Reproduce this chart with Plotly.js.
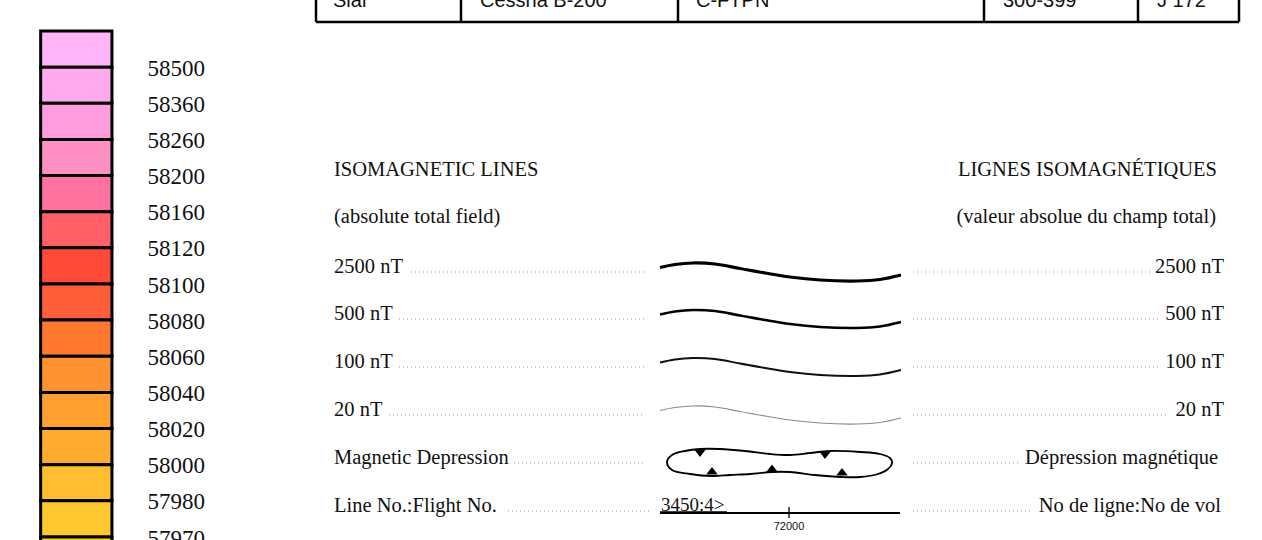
<!DOCTYPE html>
<html>
<head>
<meta charset="utf-8">
<script src="https://cdn.plot.ly/plotly-3.0.1.min.js"></script>
<style>html,body{margin:0;padding:0;background:#fff;}#chart{width:1262px;height:540px;}</style>
</head>
<body>
<div id="chart"></div>
<script>
// ---------------- DATA ----------------
const levelLabels = ['58500','58360','58260','58200','58160','58120','58100','58080','58060','58040','58020','58000','57980','57970'];
const swatchColors = ['#FFB5F7','#FFAAEE','#FF9DDE','#FF90C4','#FF72A0','#FF6068','#FF4A3A','#FF5F38','#FF7830','#FF9230','#FFA030','#FFAB30','#FFBD30','#FFC830','#FFD430'];
const tableCells = ['Sial','Cessna B-200','C-FTPN','300-399','J 172'];
const headerLeft = ['ISOMAGNETIC LINES','(absolute total field)'];
const headerRight = ['LIGNES ISOMAGNÉTIQUES','(valeur absolue du champ total)'];
const isoLevels = ['2500 nT','500 nT','100 nT','20 nT'];
const symbolLeft = ['Magnetic Depression','Line No.:Flight No.'];
const symbolRight = ['Dépression magnétique','No de ligne:No de vol'];
// sample isoline symbol (offsets along the legend swatch)
const isoCurveX  = [0, 15, 33, 55, 80, 105, 130, 160, 197, 220, 241];
const isoCurveDY = [1.5, -1.5, -3, -2, 2.5, 7, 11, 14, 15, 13.5, 9];
// magnetic depression closed contour symbol
const depLoopX = [0,5,18,33,53,78,103,123,143,163,193,213,223,225,221,211,193,175,148,123,105,83,63,45,23,5,0];
const depLoopDY = [6,-1,-5,-7,-7,-5,-2,-1,-3,-5,-4,-2,2,7,13,18,21,21,19,16,16,18,19,20,18,14,6];
const depHachDownX = [33,158];
const depHachDownDY = [-4,-2];
const depHachUpX = [45,105,175];
const depHachUpDY = [16,13.5,17];
const flightLineLabel = '3450:4>';
const fiducialLabel = '72000';
const fiducialPos = 129;

// ---------------- LAYOUT CONSTANTS ----------------
const serif = 'Liberation Serif, Times New Roman, serif';
const sans = 'Liberation Sans, Arial, sans-serif';
const rowY = [169, 216, 266, 313, 361, 409, 457, 505];
const textShift = 2;
const symX0 = 660;
const swatchTop = 31, swatchPitch = 36.14;

const traces = [];
// colour scale boxes
traces.push({
  type:'bar', xaxis:'x', yaxis:'y2',
  x: swatchColors.map(()=>76.3), y: swatchColors.map(()=>1),
  base: swatchColors.map((c,i)=>i), width: swatchColors.map(()=>71.3),
  marker:{color: swatchColors, line:{color:'#000', width:3}},
  hoverinfo:'skip', showlegend:false
});
traces.push({
  type:'scatter', mode:'text', xaxis:'x', yaxis:'y2',
  x: levelLabels.map(()=>147.5), y: levelLabels.map((l,i)=>i+1+0.08),
  text: levelLabels, textposition:'middle right',
  textfont:{family:serif, size:23, color:'#111'}, cliponaxis:false, hoverinfo:'skip', showlegend:false
});
// table cells (cut at the top, as in the source sheet)
const cellX = [333, 480, 696, 1003, 1157];
traces.push({
  type:'scatter', mode:'text', x: cellX, y: tableCells.map(()=>2),
  text: tableCells, textposition:'middle right',
  textfont:{family:sans, size:20, color:'#111'}, cliponaxis:false, hoverinfo:'skip', showlegend:false
});
// left / right texts
const leftTexts = headerLeft.concat(isoLevels, symbolLeft);
const rightTexts = headerRight.concat(isoLevels, symbolRight);
const rightX = [1217, 1216, 1224, 1224, 1224, 1224, 1218, 1221];
traces.push({
  type:'scatter', mode:'text', x: leftTexts.map(()=>334), y: rowY.map(v=>v+textShift),
  text: leftTexts, textposition:'middle right',
  textfont:{family:serif, size:20.5, color:'#111'}, cliponaxis:false, hoverinfo:'skip', showlegend:false
});
traces.push({
  type:'scatter', mode:'text', x: rightX, y: rowY.map(v=>v+textShift),
  text: rightTexts, textposition:'middle left',
  textfont:{family:serif, size:20.5, color:'#111'}, cliponaxis:false, hoverinfo:'skip', showlegend:false
});
// isolines
const isoWidths = [3.2, 2.6, 2.0, 1.2];
const isoColors = ['#000','#000','#111','#8a8a8a'];
isoLevels.forEach((lv, k)=>{
  traces.push({
    type:'scatter', mode:'lines',
    x: isoCurveX.map(v=>symX0+v), y: isoCurveDY.map(v=>rowY[2+k]+v),
    line:{color: isoColors[k], width: isoWidths[k], shape:'spline', smoothing:1},
    hoverinfo:'skip', showlegend:false
  });
});
// magnetic depression
const depX0 = 667, depY = rowY[6] - 1;
traces.push({
  type:'scatter', mode:'lines',
  x: depLoopX.map(v=>depX0+v), y: depLoopDY.map(v=>depY+v),
  line:{color:'#000', width:1.8, shape:'spline', smoothing:1}, hoverinfo:'skip', showlegend:false
});
traces.push({
  type:'scatter', mode:'markers',
  x: depHachDownX.map(v=>depX0+v), y: depHachDownDY.map(v=>depY+v),
  marker:{symbol:'triangle-down', size:10, color:'#000'}, hoverinfo:'skip', showlegend:false
});
traces.push({
  type:'scatter', mode:'markers',
  x: depHachUpX.map(v=>depX0+v), y: depHachUpDY.map(v=>depY+v),
  marker:{symbol:'triangle-up', size:10, color:'#000'}, hoverinfo:'skip', showlegend:false
});
// flight line
const flY = rowY[7] + 8;
traces.push({
  type:'scatter', mode:'lines', x:[symX0, symX0+240], y:[flY, flY],
  line:{color:'#000', width:1.8}, hoverinfo:'skip', showlegend:false
});
traces.push({
  type:'scatter', mode:'lines', x:[symX0, symX0+67], y:[flY-0.6, flY-0.6],
  line:{color:'#000', width:2.4}, hoverinfo:'skip', showlegend:false
});
traces.push({
  type:'scatter', mode:'lines', x:[symX0+fiducialPos, symX0+fiducialPos], y:[flY-6, flY+5],
  line:{color:'#000', width:1.3}, hoverinfo:'skip', showlegend:false
});
traces.push({
  type:'scatter', mode:'text', x:[symX0+1], y:[flY-7],
  text:[flightLineLabel.replace('>','&gt;')], textposition:'middle right',
  textfont:{family:serif, size:19, color:'#111'}, cliponaxis:false, hoverinfo:'skip', showlegend:false
});
traces.push({
  type:'scatter', mode:'text', x:[symX0+fiducialPos], y:[flY+14],
  text:[fiducialLabel], textposition:'middle center',
  textfont:{family:sans, size:11, color:'#111'}, cliponaxis:false, hoverinfo:'skip', showlegend:false
});

// shapes: table lines + dotted leaders
const shapes = [];
const tblLine = {color:'#000', width:2.5};
shapes.push({type:'line', xref:'x', yref:'y', x0:316, x1:1239, y0:22, y1:22, line:tblLine});
[316, 461, 678, 984, 1138, 1239].forEach(x=>{
  shapes.push({type:'line', xref:'x', yref:'y', x0:x, x1:x, y0:-5, y1:22, line:tblLine});
});
const dotLine = {color:'#b5b5b5', width:1.3, dash:'1px,3px'};
const leftDotStart = [411, 399, 399, 389, 514, 508];
const leftDotEnd = [645, 644, 644, 642, 645, 652];
const rightDotEnd = [1152, 1161, 1161, 1166, 1021, 1031];
for (let k=0;k<6;k++){
  const y = rowY[2+k] + 6;
  shapes.push({type:'line', xref:'x', yref:'y', x0:leftDotStart[k], x1:leftDotEnd[k], y0:y, y1:y, line:dotLine});
  shapes.push({type:'line', xref:'x', yref:'y', x0:913, x1:rightDotEnd[k], y0:y, y1:y, line:dotLine});
}

const layout = {
  width:1262, height:540, margin:{l:0,r:0,t:0,b:0,pad:0},
  paper_bgcolor:'#fff', plot_bgcolor:'#fff', showlegend:false,
  xaxis:{range:[0,1262], visible:false, fixedrange:true},
  yaxis:{range:[540,0], visible:false, fixedrange:true},
  yaxis2:{range:[(540-swatchTop)/swatchPitch, -swatchTop/swatchPitch], overlaying:'y', visible:false, fixedrange:true},
  bargap:0, shapes: shapes
};
Plotly.newPlot('chart', traces, layout, {staticPlot:true, displayModeBar:false});
</script>
</body>
</html>
